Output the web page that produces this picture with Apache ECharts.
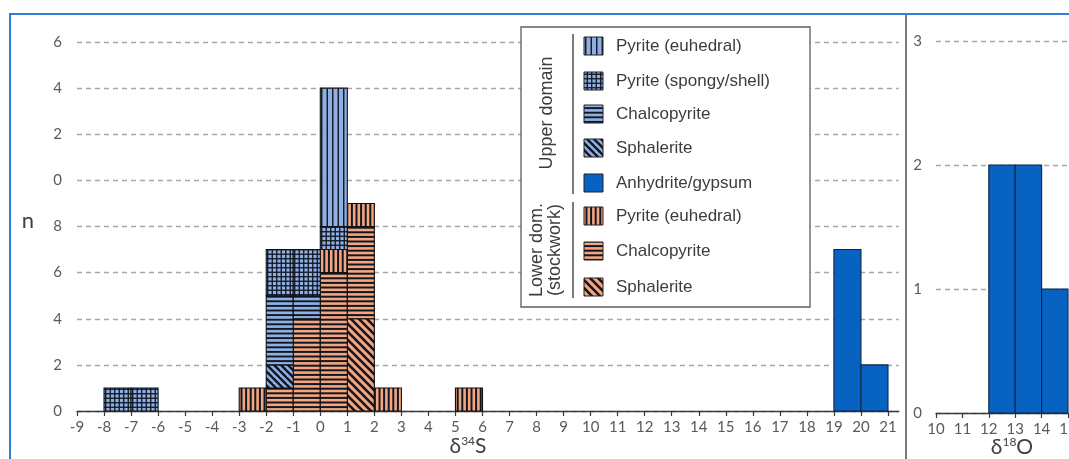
<!DOCTYPE html>
<html>
<head>
<meta charset="utf-8">
<script src="https://cdn.jsdelivr.net/npm/echarts@6/dist/echarts.min.js"></script>
<style>
  html, body { margin: 0; padding: 0; background: #fff; }
  #chart { width: 1069px; height: 459px; }
</style>
</head>
<body>
<div id="chart"></div>
<script>
// ---- δ34S histogram: left edge of each 1‰ bin ----
const binStartsS = [-8, -7, -3, -2, -1, 0, 1, 2, 5, 19, 20];
// counts per bin (stacking order bottom -> top)
const lowerSphalerite   = [0, 0, 0, 0, 0, 0, 4, 0, 0, 0, 0];
const lowerChalcopyrite = [0, 0, 0, 1, 4, 6, 4, 0, 0, 0, 0];
const lowerPyriteEuh    = [0, 0, 1, 0, 0, 1, 1, 1, 1, 0, 0];
const upperSphalerite   = [0, 0, 0, 1, 0, 0, 0, 0, 0, 0, 0];
const upperChalcopyrite = [0, 0, 0, 3, 1, 0, 0, 0, 0, 0, 0];
const upperPyriteSpongy = [1, 1, 0, 2, 2, 1, 0, 0, 0, 0, 0];
const upperPyriteEuh    = [0, 0, 0, 0, 0, 6, 0, 0, 0, 0, 0];
const anhydriteS        = [0, 0, 0, 0, 0, 0, 0, 0, 0, 7, 2];

// ---- δ18O histogram of anhydrite/gypsum ----
const binStartsO = [12, 13, 14];
const anhydriteO = [2, 2, 1];

// ---- tick labels ----
const sTicks = [-9, -8, -7, -6, -5, -4, -3, -2, -1, 0, 1, 2, 3, 4, 5, 6, 7, 8, 9, 10,
                11, 12, 13, 14, 15, 16, 17, 18, 19, 20, 21];
const nLabelsS = ['0', '2', '4', '6', '8', '0', '2', '4', '6'];
const nLabelsO = ['0', '1', '2', '3'];

// legend entries
const upperNames = ['Pyrite (euhedral)', 'Pyrite (spongy/shell)', 'Chalcopyrite', 'Sphalerite', 'Anhydrite/gypsum'];
const lowerNames = ['Pyrite (euhedral)', 'Chalcopyrite', 'Sphalerite'];

// ---- hatch fills ----
const BLUE = '#8fb0e2', ORANGE = '#f5a67e', INK = '#101622', SOLID = '#0862c2';
function makePattern(w, h, bg, draw) {
  const c = document.createElement('canvas');
  c.width = w; c.height = h;
  const g = c.getContext('2d');
  g.fillStyle = bg; g.fillRect(0, 0, w, h);
  g.fillStyle = INK; g.strokeStyle = INK;
  draw(g, w, h);
  return { image: c, repeat: 'repeat' };
}
const vLines = (period, lw) => (g, w, h) => {
  for (let x = period / 2; x < w; x += period) g.fillRect(x - lw / 2, 0, lw, h);
};
const hLines = (period, lw) => (g, w, h) => {
  for (let y = period / 2; y < h; y += period) g.fillRect(0, y - lw / 2, w, lw);
};
const grid = (period, lw) => (g, w, h) => { vLines(period, lw)(g, w, h); hLines(period, lw)(g, w, h); };
const diag = (lw) => (g, w, h) => {
  g.lineWidth = lw;
  for (let k = -1; k <= 1; k++) {
    g.beginPath(); g.moveTo(k * w - 1, -1); g.lineTo(k * w + w + 1, h + 1); g.stroke();
  }
};
const fills = {
  upperPyriteEuh:    makePattern(11, 2, BLUE, vLines(5.5, 1.4)),
  upperPyriteSpongy: makePattern(9, 9, BLUE, grid(4.5, 1.3)),
  upperChalcopyrite: makePattern(2, 23, BLUE, hLines(4.6, 1.9)),
  upperSphalerite:   makePattern(7, 7, BLUE, diag(2.4)),
  anhydrite:         SOLID,
  lowerPyriteEuh:    makePattern(23, 2, ORANGE, vLines(4.6, 2.0)),
  lowerChalcopyrite: makePattern(2, 23, ORANGE, hLines(4.6, 2.0)),
  lowerSphalerite:   makePattern(8, 8, ORANGE, diag(2.6))
};

// ---- stacked rectangles [x0, x1, y0, y1] ----
function stackLayers(starts, layers) {
  const base = starts.map(() => 0);
  return layers.map(layer => {
    const rows = [];
    layer.values.forEach((v, i) => {
      if (v > 0) rows.push([starts[i], starts[i] + 1, base[i], base[i] + v]);
      base[i] += v;
    });
    return { name: layer.name, fill: layer.fill, stroke: layer.stroke, rows };
  });
}
const layersS = stackLayers(binStartsS, [
  { name: 'Lower Sphalerite', values: lowerSphalerite, fill: fills.lowerSphalerite },
  { name: 'Lower Chalcopyrite', values: lowerChalcopyrite, fill: fills.lowerChalcopyrite },
  { name: 'Lower Pyrite (euhedral)', values: lowerPyriteEuh, fill: fills.lowerPyriteEuh },
  { name: 'Upper Sphalerite', values: upperSphalerite, fill: fills.upperSphalerite },
  { name: 'Upper Chalcopyrite', values: upperChalcopyrite, fill: fills.upperChalcopyrite },
  { name: 'Upper Pyrite (spongy/shell)', values: upperPyriteSpongy, fill: fills.upperPyriteSpongy },
  { name: 'Upper Pyrite (euhedral)', values: upperPyriteEuh, fill: fills.upperPyriteEuh },
  { name: 'Anhydrite/gypsum', values: anhydriteS, fill: fills.anhydrite, stroke: '#0b2547' }
]);
const layersO = stackLayers(binStartsO, [
  { name: 'Anhydrite/gypsum δ18O', values: anhydriteO, fill: fills.anhydrite, stroke: '#0b2547' }
]);

function rectSeries(layer, axisIndex) {
  return {
    type: 'custom',
    name: layer.name,
    xAxisIndex: axisIndex,
    yAxisIndex: axisIndex,
    data: layer.rows,
    encode: { x: [0, 1], y: [2, 3] },
    z: 5,
    renderItem: (params, api) => {
      const p0 = api.coord([api.value(0), api.value(3)]);
      const p1 = api.coord([api.value(1), api.value(2)]);
      return {
        type: 'rect',
        shape: { x: p0[0], y: p0[1], width: p1[0] - p0[0], height: p1[1] - p0[1] },
        style: { fill: layer.fill, stroke: layer.stroke || '#111', lineWidth: 1.1 }
      };
    }
  };
}

const TICK_TXT = '#5a5a5a';
const FONT_AX = 'Lato, "Open Sans", sans-serif';
const FONT_LG = '"Liberation Sans", Arial, sans-serif';
const dashed = { show: true, lineStyle: { color: '#a8a8a8', width: 1.3, type: [5, 4] } };

const xAxisCommon = {
  type: 'value', interval: 1,
  axisLine: { show: true, onZero: false, lineStyle: { color: '#3a3a3a', width: 1.3 } },
  axisTick: { show: true, length: 5, lineStyle: { color: '#3a3a3a', width: 1.2 } },
  axisLabel: { color: TICK_TXT, fontSize: 15, fontFamily: FONT_AX, margin: 9 },
  splitLine: { show: false }
};

// legend graphics
const legendEls = [];
const LX = 521, LY = 27, LW = 289, LH = 280;
legendEls.push({ type: 'rect', shape: { x: LX, y: LY, width: LW, height: LH },
  style: { fill: '#fff', stroke: '#5e5e5e', lineWidth: 1.3 }, z: 100 });
const upperFills = [fills.upperPyriteEuh, fills.upperPyriteSpongy, fills.upperChalcopyrite, fills.upperSphalerite, fills.anhydrite];
const lowerFills = [fills.lowerPyriteEuh, fills.lowerChalcopyrite, fills.lowerSphalerite];
const upperRows = [46, 81, 114, 148, 183];
const lowerRows = [216, 251, 287];
function legendRow(name, fill, y) {
  legendEls.push({ type: 'rect', shape: { x: 584, y: y - 9, width: 19, height: 18 },
    style: { fill: fill, stroke: '#222', lineWidth: 1 }, z: 101 });
  legendEls.push({ type: 'text', x: 616, y: y, z: 101,
    style: { text: name, fill: '#3c3c3c', font: '17px ' + FONT_LG, textAlign: 'left', textVerticalAlign: 'middle' } });
}
upperNames.forEach((n, i) => legendRow(n, upperFills[i], upperRows[i]));
lowerNames.forEach((n, i) => legendRow(n, lowerFills[i], lowerRows[i]));
legendEls.push({ type: 'line', shape: { x1: 573, y1: 34, x2: 573, y2: 194 }, style: { stroke: '#333', lineWidth: 1.3 }, z: 101 });
legendEls.push({ type: 'line', shape: { x1: 573, y1: 202, x2: 573, y2: 298 }, style: { stroke: '#333', lineWidth: 1.3 }, z: 101 });
legendEls.push({ type: 'text', x: 547, y: 113, rotation: Math.PI / 2, z: 101,
  style: { text: 'Upper domain', fill: '#3c3c3c', font: '18px ' + FONT_LG, textAlign: 'center', textVerticalAlign: 'middle' } });
legendEls.push({ type: 'text', x: 537, y: 250, rotation: Math.PI / 2, z: 101,
  style: { text: 'Lower dom.', fill: '#3c3c3c', font: '18px ' + FONT_LG, textAlign: 'center', textVerticalAlign: 'middle' } });
legendEls.push({ type: 'text', x: 555, y: 250, rotation: Math.PI / 2, z: 101,
  style: { text: '(stockwork)', fill: '#3c3c3c', font: '18px ' + FONT_LG, textAlign: 'center', textVerticalAlign: 'middle' } });

const option = {
  animation: false,
  backgroundColor: '#fff',
  grid: [
    { left: 77, top: 42, width: 821.8, height: 369, outerBoundsMode: 'none', containLabel: false },
    { left: 936, top: 41, width: 132, height: 372, outerBoundsMode: 'none', containLabel: false }
  ],
  xAxis: [
    Object.assign({}, xAxisCommon, { gridIndex: 0, min: -9, max: 21.4,
      axisLabel: Object.assign({}, xAxisCommon.axisLabel, { customValues: sTicks }),
      axisTick: Object.assign({}, xAxisCommon.axisTick, { customValues: sTicks }) }),
    Object.assign({}, xAxisCommon, { gridIndex: 1, min: 10, max: 15 })
  ],
  yAxis: [
    { type: 'value', gridIndex: 0, min: 0, max: 16, interval: 2,
      axisLine: { show: false }, axisTick: { show: false }, splitLine: dashed,
      axisLabel: { color: TICK_TXT, fontSize: 15, fontFamily: FONT_AX, margin: 15,
        formatter: (v, i) => nLabelsS[i] } },
    { type: 'value', gridIndex: 1, min: 0, max: 3, interval: 1,
      axisLine: { show: false }, axisTick: { show: false }, splitLine: dashed,
      axisLabel: { color: TICK_TXT, fontSize: 15, fontFamily: FONT_AX, margin: 14,
        formatter: (v, i) => nLabelsO[i] } }
  ],
  series: layersS.map(l => rectSeries(l, 0)).concat(layersO.map(l => rectSeries(l, 1))),
  graphic: [
    // frame and panel divider
    { type: 'rect', shape: { x: 10, y: 14, width: 1100, height: 500 },
      style: { fill: 'none', stroke: '#2f7fd8', lineWidth: 2 }, z: 90 },
    { type: 'line', shape: { x1: 906, y1: 15, x2: 906, y2: 459 },
      style: { stroke: '#7a7a7a', lineWidth: 2 }, z: 90 },
    // axis titles
    { type: 'text', x: 28, y: 221, z: 90,
      style: { text: 'n', fill: '#404040', font: '22px ' + FONT_AX, textAlign: 'center', textVerticalAlign: 'middle' } },
    { type: 'text', x: 468, y: 446, z: 90,
      style: { text: 'δ{s|34}S', fill: '#404040', font: '21px ' + FONT_AX, textAlign: 'center', textVerticalAlign: 'middle',
        rich: { s: { fontSize: 12, fontFamily: FONT_AX, verticalAlign: 'top', fill: '#404040' } } } },
    { type: 'text', x: 1012, y: 447, z: 90,
      style: { text: 'δ{s|18}O', fill: '#404040', font: '21px ' + FONT_AX, textAlign: 'center', textVerticalAlign: 'middle',
        rich: { s: { fontSize: 12, fontFamily: FONT_AX, verticalAlign: 'top', fill: '#404040' } } } }
  ].concat(legendEls)
};

const chart = echarts.init(document.getElementById('chart'), null, { renderer: 'canvas' });
chart.setOption(option);
</script>
</body>
</html>
